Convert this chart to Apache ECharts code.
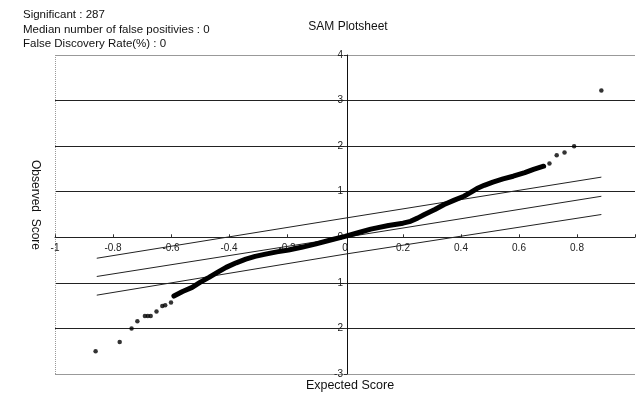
<!DOCTYPE html>
<html>
<head>
<meta charset="utf-8">
<script src="https://cdn.jsdelivr.net/npm/echarts@6/dist/echarts.min.js"></script>
<style>
  html, body { margin: 0; padding: 0; background: #fff; }
  #chart { width: 638px; height: 394px; }
</style>
</head>
<body>
<div id="chart"></div>
<script>
// dense middle part of the observed vs expected curve
const bodyPoints = [
  [-0.59, -1.29], [-0.56, -1.19], [-0.527, -1.10], [-0.50, -0.99], [-0.469, -0.88],
  [-0.44, -0.77], [-0.41, -0.66], [-0.375, -0.56], [-0.342, -0.48], [-0.31, -0.42],
  [-0.274, -0.37], [-0.235, -0.32], [-0.195, -0.28], [-0.15, -0.22], [-0.103, -0.15],
  [-0.05, -0.06], [0.0, 0.02], [0.045, 0.10], [0.089, 0.18], [0.15, 0.26],
  [0.20, 0.31], [0.226, 0.35], [0.25, 0.42], [0.274, 0.50], [0.31, 0.61],
  [0.342, 0.72], [0.375, 0.81], [0.41, 0.90], [0.435, 0.99], [0.455, 1.07],
  [0.48, 1.14], [0.51, 1.21], [0.545, 1.28], [0.58, 1.34], [0.62, 1.42],
  [0.65, 1.49], [0.685, 1.56]
];
// isolated points at both tails
const tailPoints = [
  [-0.86, -2.5], [-0.777, -2.3], [-0.736, -2.0], [-0.716, -1.84], [-0.69, -1.73],
  [-0.68, -1.73], [-0.67, -1.73], [-0.65, -1.63], [-0.63, -1.51], [-0.62, -1.49],
  [-0.60, -1.43],
  [0.705, 1.62], [0.73, 1.80], [0.757, 1.86], [0.79, 2.0], [0.884, 3.22]
];
// delta cut-off lines and the expected line
const upperLine = [[-0.856, -0.46], [0, 0.42], [0.884, 1.32]];
const middleLine = [[-0.856, -0.86], [0, 0.0], [0.884, 0.9]];
const lowerLine = [[-0.856, -1.27], [0, -0.37], [0.884, 0.5]];

const xTicks = { min: -1, max: 1, step: 0.2 };
const yTicks = { min: -3, max: 4, step: 1 };

const infoLines = [
  "Significant : 287",
  "Median number of false positivies : 0",
  "False Discovery Rate(%) : 0"
];

const chart = echarts.init(document.getElementById("chart"));
const font = "Liberation Sans, Arial, sans-serif";
const gridLeft = 55, gridTop = 55, gridWidth = 584, gridHeight = 319;
// both axes cross at zero, so shift them in from the grid edges
const xAxisShift = gridHeight * (0 - yTicks.min) / (yTicks.max - yTicks.min);
const yAxisShift = gridWidth * (0 - xTicks.min) / (xTicks.max - xTicks.min);

chart.setOption({
  animation: false,
  textStyle: { fontFamily: font },
  grid: { left: gridLeft, top: gridTop, width: gridWidth, height: gridHeight },
  xAxis: {
    type: "value",
    min: xTicks.min,
    max: xTicks.max,
    interval: xTicks.step,
    position: "bottom",
    offset: -xAxisShift,
    axisLine: { onZero: false, lineStyle: { color: "#222", width: 1 } },
    axisTick: { show: true, inside: true, length: 3, lineStyle: { color: "#333" } },
    axisLabel: {
      color: "#222",
      fontSize: 10,
      margin: 6,
      formatter: (v) => (Math.abs(v - 1) < 1e-9 ? "" : String(Math.round(v * 10) / 10))
    },
    splitLine: {
      show: true,
      lineStyle: {
        type: "dotted",
        color: ["#999", "transparent", "transparent", "transparent", "transparent",
          "transparent", "transparent", "transparent", "transparent", "transparent", "transparent"]
      }
    }
  },
  yAxis: {
    type: "value",
    min: yTicks.min,
    max: yTicks.max,
    interval: yTicks.step,
    position: "left",
    offset: -yAxisShift,
    axisLine: { onZero: false, lineStyle: { color: "#111", width: 1 } },
    axisTick: { show: true, length: 3, lineStyle: { color: "#333" } },
    axisLabel: { color: "#222", fontSize: 10, margin: 4 },
    splitLine: {
      show: true,
      lineStyle: {
        color: ["#999", "#222", "#222", "#222", "#222", "#222", "#222", "#999"],
        width: 1
      }
    }
  },
  series: [
    {
      type: "line",
      data: upperLine,
      showSymbol: false,
      lineStyle: { color: "#222", width: 1 },
      z: 2
    },
    {
      type: "line",
      data: middleLine,
      showSymbol: false,
      lineStyle: { color: "#222", width: 1 },
      z: 2
    },
    {
      type: "line",
      data: lowerLine,
      showSymbol: false,
      lineStyle: { color: "#222", width: 1 },
      z: 2
    },
    {
      type: "line",
      data: bodyPoints,
      showSymbol: false,
      lineStyle: { color: "#000", width: 5, cap: "round", join: "round" },
      z: 3
    },
    {
      type: "scatter",
      data: tailPoints,
      symbolSize: 4.5,
      itemStyle: { color: "#000" },
      z: 3
    }
  ],
  graphic: [
    {
      type: "text",
      left: 23,
      top: 8,
      style: {
        text: infoLines.join("\n"),
        font: "11.5px " + font,
        lineHeight: 14.5,
        fill: "#111"
      }
    },
    {
      type: "text",
      x: 348,
      y: 27,
      style: {
        text: "SAM Plotsheet",
        font: "12px " + font,
        fill: "#111",
        align: "center",
        verticalAlign: "middle"
      }
    },
    {
      type: "text",
      x: 35,
      y: 205,
      rotation: -Math.PI / 2,
      style: {
        text: "Observed  Score",
        font: "12px " + font,
        fill: "#111",
        align: "center",
        verticalAlign: "middle"
      }
    },
    {
      type: "text",
      x: 350,
      y: 386,
      style: {
        text: "Expected Score",
        font: "12.5px " + font,
        fill: "#111",
        align: "center",
        verticalAlign: "middle"
      }
    }
  ]
});
</script>
</body>
</html>
